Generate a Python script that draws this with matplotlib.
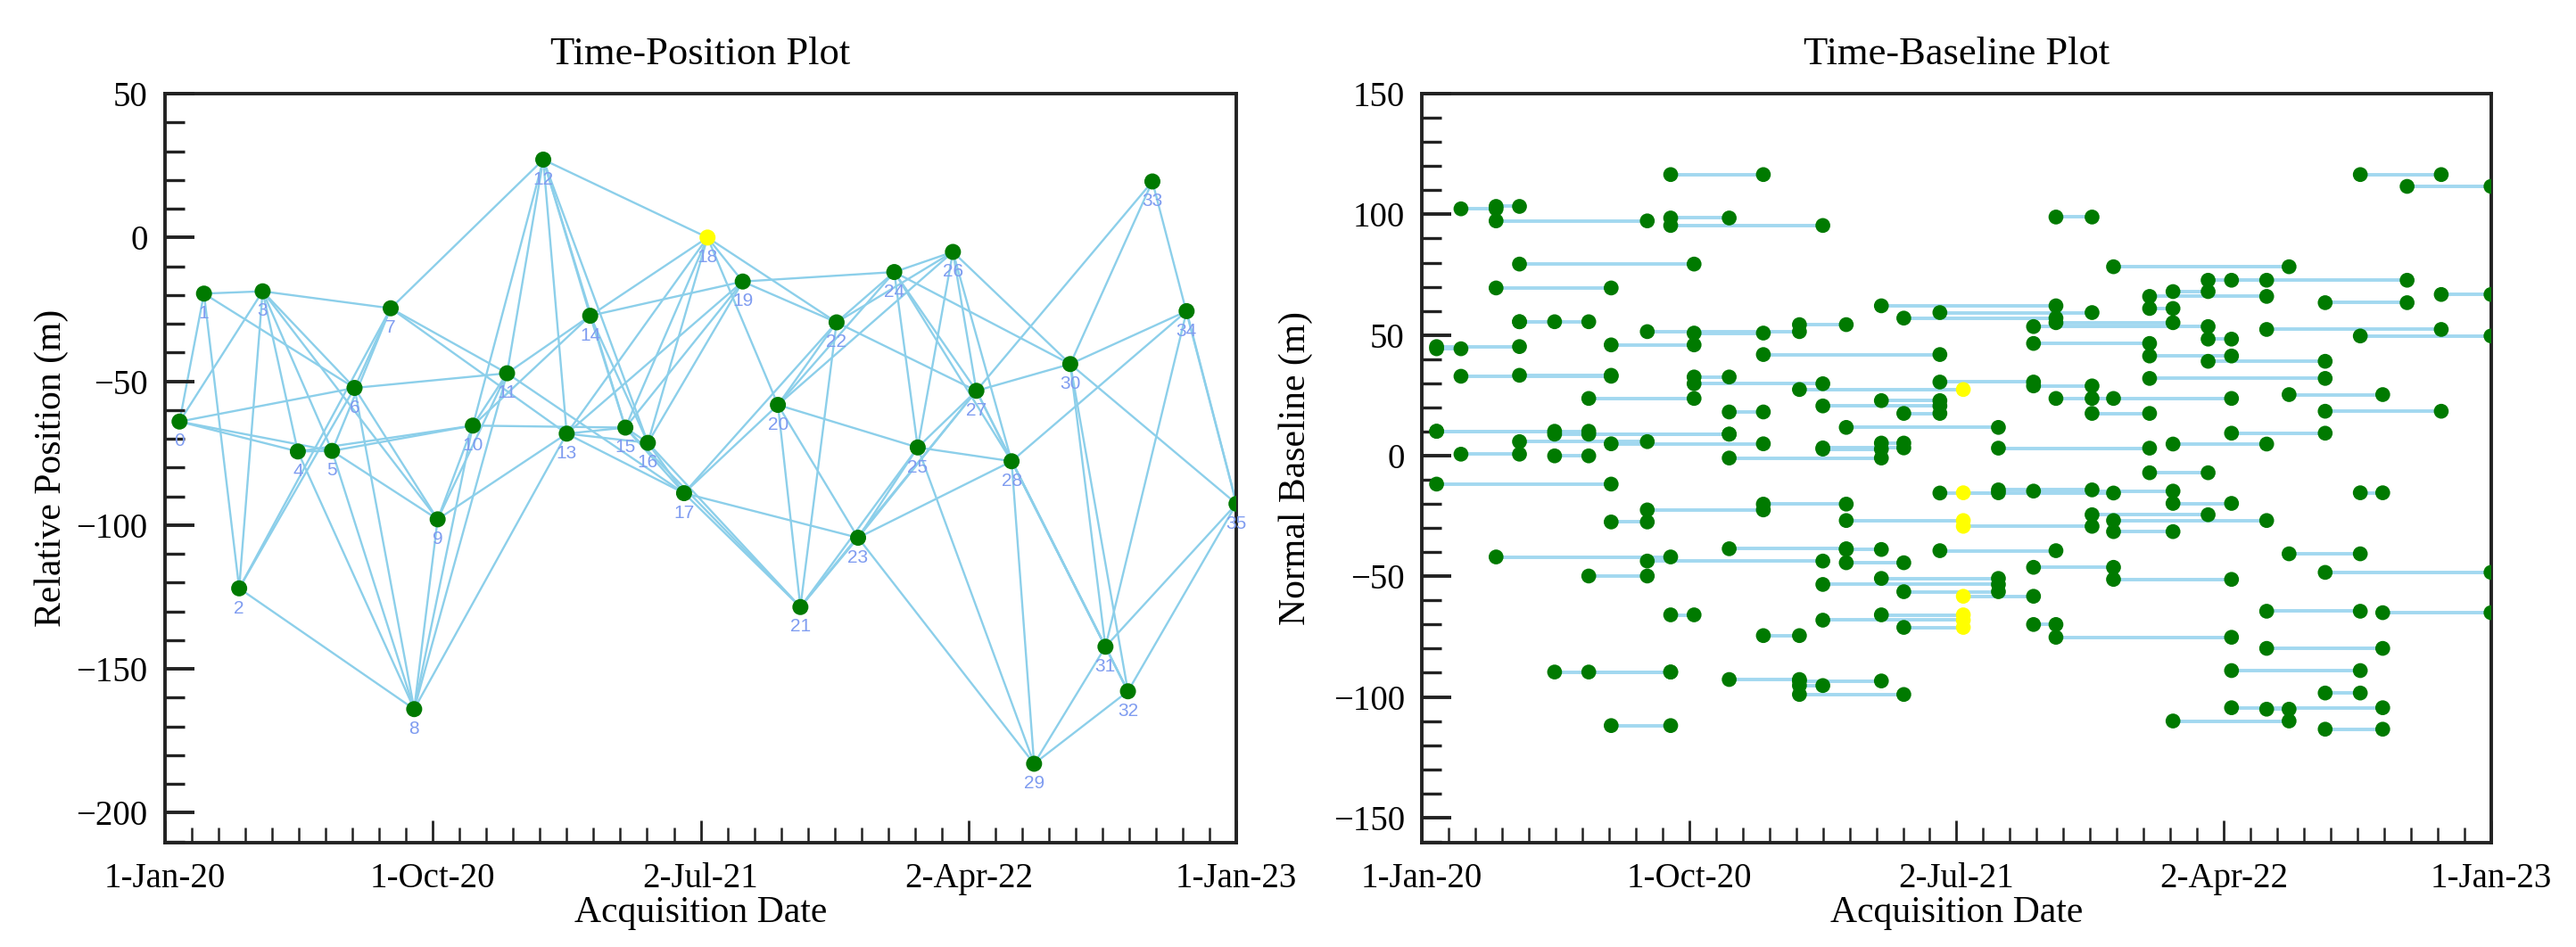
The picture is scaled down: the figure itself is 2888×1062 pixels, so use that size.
import numpy as np
import matplotlib
matplotlib.use('Agg')
import matplotlib.pyplot as plt
import matplotlib.dates as mdates
from matplotlib.ticker import FixedLocator, MultipleLocator

plt.rcParams['font.family'] = ['Liberation Serif', 'DejaVu Serif']

# ---------------- data ----------------
acq_dates = ['2020-01-16', '2020-02-10', '2020-03-17', '2020-04-10', '2020-05-16',
             '2020-06-20', '2020-07-13', '2020-08-19', '2020-09-12', '2020-10-06',
             '2020-11-11', '2020-12-16', '2021-01-22', '2021-02-15', '2021-03-11',
             '2021-04-16', '2021-05-09', '2021-06-15', '2021-07-09', '2021-08-14',
             '2021-09-19', '2021-10-12', '2021-11-18', '2021-12-10', '2022-01-16',
             '2022-02-09', '2022-03-17', '2022-04-10', '2022-05-16', '2022-06-08',
             '2022-07-15', '2022-08-20', '2022-09-12', '2022-10-07', '2022-11-11',
             '2023-01-01']
rel_position = [-64.0, -19.5, -122.0, -18.7, -74.4, -74.2, -52.3, -24.6, -164.0, -98.0,
                -65.4, -47.2, 27.1, -68.2, -27.2, -66.1, -71.4, -88.9, 0.0, -15.3,
                -58.2, -128.5, -29.5, -104.4, -12.0, -73.0, -5.0, -53.3, -77.8, -183.0,
                -44.0, -142.3, -157.8, 19.5, -25.6, -92.6]
master_index = 18

pair_first = [0, 0, 0, 0, 0,
              1, 1, 1,
              2, 2, 2, 2,
              3, 3, 3, 3, 3,
              4, 4, 4,
              5, 5, 5, 5,
              6, 6, 6, 6,
              7, 7, 7,
              8, 8, 8, 8,
              9, 9, 9,
              10, 10, 10, 10,
              11, 11, 11,
              12, 12, 12, 12, 12,
              13, 13, 13, 13, 13,
              14, 14, 14, 14,
              15, 15, 15, 15, 15,
              16, 16, 16, 16,
              17, 17, 17, 17,
              18, 18, 18,
              19, 19,
              20, 20, 20, 20, 20, 20,
              21, 21, 21, 21,
              22, 22, 22,
              23, 23, 23, 23,
              24, 24, 24, 24, 24,
              25, 25, 25, 25,
              26, 26, 26,
              27, 27, 27, 27,
              28, 28, 28, 28,
              29, 29,
              30, 30, 30, 30, 30,
              31, 31, 31,
              32, 33, 34]
pair_second = [1, 3, 4, 5, 6,
               2, 3, 6,
               3, 6, 7, 8,
               4, 5, 6, 7, 9,
               5, 8, 10,
               7, 8, 9, 10,
               7, 8, 9, 11,
               11, 12, 13,
               9, 10, 11, 13,
               10, 11, 13,
               11, 12, 14, 15,
               12, 14, 17,
               13, 14, 15, 16, 18,
               15, 16, 17, 18, 19,
               15, 16, 18, 19,
               16, 17, 18, 19, 21,
               17, 18, 19, 21,
               20, 21, 22, 23,
               19, 20, 22,
               22, 24,
               21, 22, 23, 24, 25, 26,
               22, 23, 25, 27,
               24, 26, 27,
               25, 27, 28, 29,
               25, 26, 27, 28, 30,
               26, 27, 28, 29,
               27, 28, 30,
               30, 31, 32, 33,
               29, 31, 32, 34,
               31, 32,
               31, 32, 33, 34, 35,
               32, 34, 35,
               35, 35, 35]
pair_baseline = [44.3, 45.2, 10.1, 10.1, -11.8,
                 102.3, 0.6, 32.9,
                 103.3, 69.5, 97.3, -42.0,
                 55.5, 55.5, 33.3, 5.8, 79.4,
                 -0.1, -89.7, 8.9,
                 -49.9, -89.7, 23.7, 8.9,
                 -27.5, -111.9, 45.9, 4.9,
                 -22.5, 51.4, -43.7,
                 -66.0, 98.5, 116.5, 95.4,
                 32.6, 50.8, 29.8,
                 18.1, -92.8, -38.6, -1.0,
                 -74.6, -20.1, 41.9,
                 -95.3, 54.3, -93.4, -99.0, 27.4,
                 2.7, 3.2, 20.6, -68.2, -53.4,
                 -38.9, -44.4, -26.9, 11.7,
                 5.2, 22.8, -66.0, -50.9, 62.1,
                 17.5, -71.2, -56.4, 57.0,
                 30.5, -39.4, 59.3, -15.5,
                 -15.4, -58.3, -29.3,
                 -14.2, 3.1,
                 -70.0, 28.9, -46.3, 46.5, -14.7, 53.5,
                 98.9, 23.7, 55.1, -75.3,
                 17.5, -24.5, 23.7,
                 -31.5, -51.3, -26.9, 78.3,
                 61.0, -7.1, 41.3, 66.0, 32.0,
                 68.0, -19.8, 4.8, -110.0,
                 48.3, 72.7, 39.1,
                 9.3, -89.1, -104.5, 72.7,
                 -105.1, -64.5, -79.9, 52.3,
                 -40.7, 25.3,
                 -98.4, -113.4, 63.4, 18.4, -48.4,
                 -15.4, 116.5, 49.6,
                 -65.1, 111.6, 66.8]

x_tick_dates = ['2020-01-01', '2020-10-01', '2021-07-02', '2022-04-02', '2023-01-01']
x_tick_labels = ['1-Jan-20', '1-Oct-20', '2-Jul-21', '2-Apr-22', '1-Jan-23']

# ---------------- style ----------------
node_green = '#007a00'
master_yellow = '#ffff00'
edge_blue = '#8ccfea'
seg_blue = '#a2d8f0'
label_blue = '#7f9cf0'
spine_col = '#222222'

xd = mdates.datestr2num(acq_dates)
tick_nums = mdates.datestr2num(x_tick_dates)
n = len(acq_dates)
node_cols = [master_yellow if i == master_index else node_green for i in range(n)]

fig = plt.figure(figsize=(14.44, 5.31), dpi=200)
ax1 = fig.add_axes([0.064, 0.110, 0.416, 0.791])
ax2 = fig.add_axes([0.552, 0.110, 0.415, 0.791])

# ---- left: time-position ----
for a, b in zip(pair_first, pair_second):
    ax1.plot([xd[a], xd[b]], [rel_position[a], rel_position[b]],
             color=edge_blue, lw=0.85, zorder=1)
ax1.scatter(xd, rel_position, s=42, c=node_cols, edgecolors='none', zorder=3)
for i in range(n):
    ax1.annotate(str(i), (xd[i], rel_position[i]), xytext=(0, -8),
                 textcoords='offset points', ha='center', va='center',
                 fontsize=7.5, color=label_blue, family=['Liberation Sans', 'DejaVu Sans'],
                 zorder=4, annotation_clip=True)
ax1.set_ylim(-210.5, 50)
ax1.set_title('Time-Position Plot', fontsize=16, pad=12)
ax1.set_ylabel('Relative Position (m)', fontsize=15, labelpad=3)

# ---- right: time-baseline ----
for a, b, bl in zip(pair_first, pair_second, pair_baseline):
    ax2.plot([xd[a], xd[b]], [bl, bl], color=seg_blue, lw=1.4, zorder=1)
seg_x = []
seg_y = []
seg_c = []
for a, b, bl in zip(pair_first, pair_second, pair_baseline):
    for k in (a, b):
        seg_x.append(xd[k])
        seg_y.append(bl)
        seg_c.append(node_cols[k])
ax2.scatter(seg_x, seg_y, s=36, c=seg_c, edgecolors='none', zorder=3)
ax2.set_ylim(-160.5, 150)
ax2.set_title('Time-Baseline Plot', fontsize=16, pad=12)
ax2.set_ylabel('Normal Baseline (m)', fontsize=15, labelpad=8)

for ax in (ax1, ax2):
    ax.set_xlim(tick_nums[0], tick_nums[-1])
    ax.xaxis.set_major_locator(FixedLocator(tick_nums))
    ax.xaxis.set_minor_locator(FixedLocator(np.linspace(tick_nums[0], tick_nums[-1], 41)))
    ax.set_xticklabels(x_tick_labels)
    ax.yaxis.set_major_locator(MultipleLocator(50))
    ax.yaxis.set_minor_locator(MultipleLocator(10))
    ax.tick_params(which='both', direction='in', top=False, right=False,
                   labelsize=14, color=spine_col)
    ax.tick_params(axis='x', which='major', length=9, width=1.0, pad=8)
    ax.tick_params(axis='x', which='minor', length=6, width=0.9)
    ax.tick_params(axis='y', which='major', length=12, width=1.4, pad=7)
    ax.tick_params(axis='y', which='minor', length=8, width=1.2)
    ax.set_xlabel('Acquisition Date', fontsize=15, labelpad=0)
    for sp in ax.spines.values():
        sp.set_color(spine_col)
        sp.set_linewidth(1.4)

fig.savefig('out.png', dpi=200)
